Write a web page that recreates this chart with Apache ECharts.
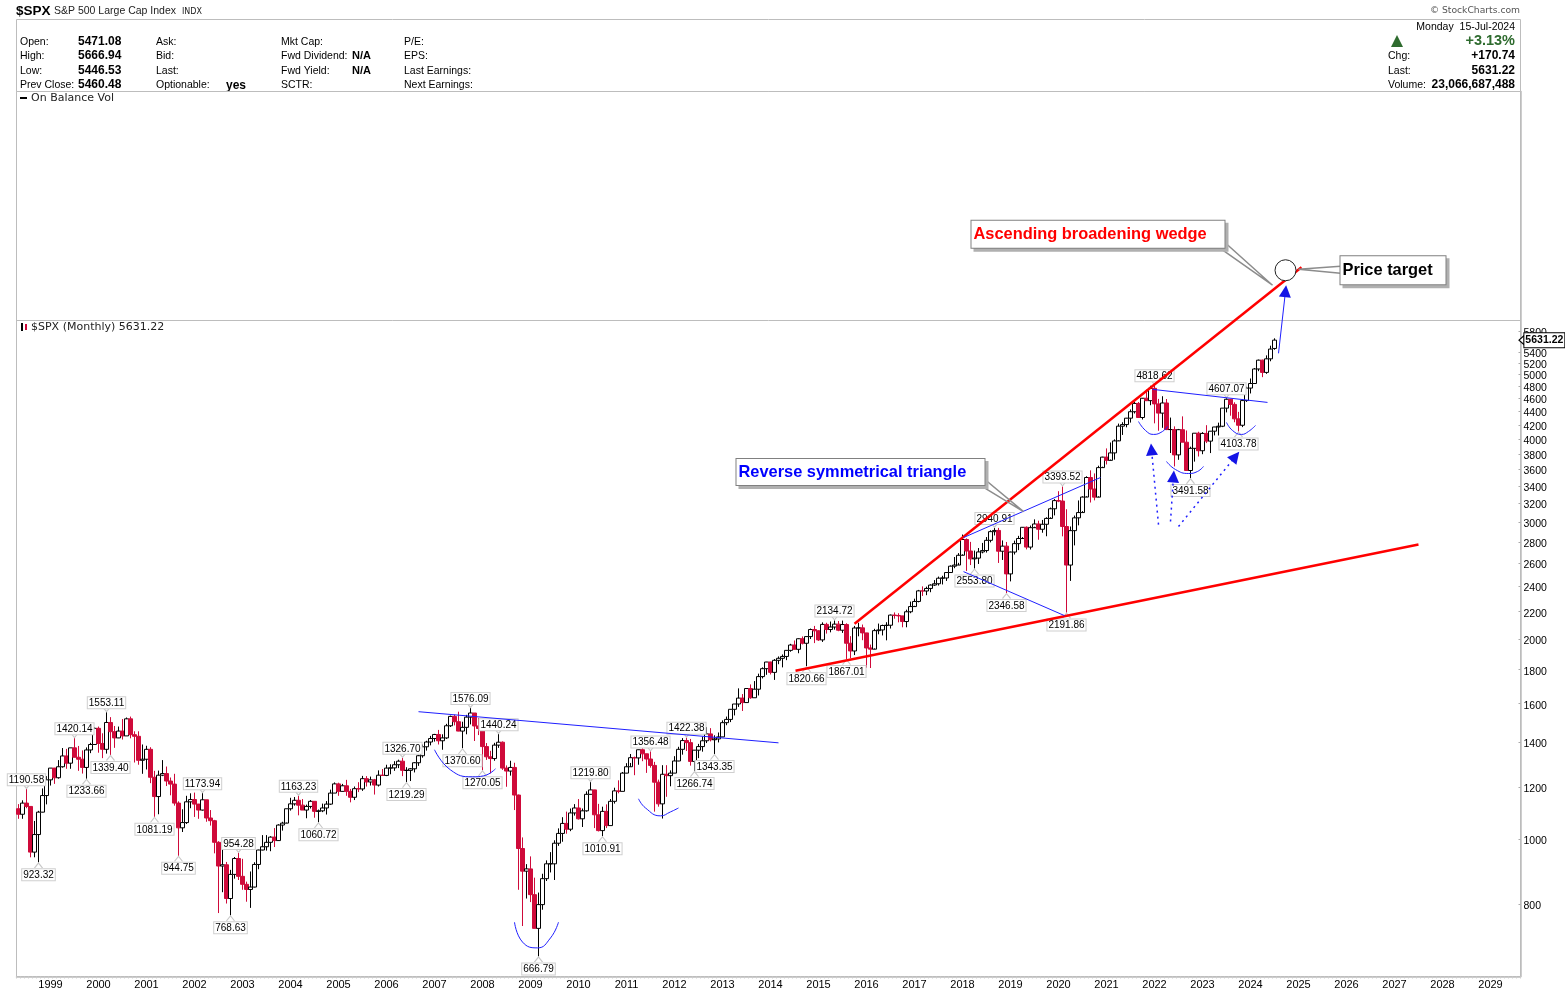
<!DOCTYPE html>
<html>
<head>
<meta charset="utf-8">
<title>$SPX</title>
<style>html,body{margin:0;padding:0;background:#fff}#chart{width:1565px;height:992px}</style>
<script src="https://cdn.jsdelivr.net/npm/echarts@6/dist/echarts.min.js"></script>
</head>
<body>
<div id="chart"></div>
<script>
// monthly candles May 1998 .. Jul 2024, one row per year
var opens = [
  1112,1091,1134,1121,957,1017,1099,1164,
  1229,1280,1238,1286,1335,1302,1373,1329,1320,1283,1363,1389,
  1469,1394,1366,1499,1452,1421,1455,1431,1518,1437,1429,1315,
  1320,1366,1240,1160,1249,1256,1224,1211,1134,1041,1060,1139,
  1148,1130,1107,1147,1077,1067,990,912,916,815,886,936,
  880,856,841,848,917,964,975,990,1008,996,1051,1058,
  1112,1131,1145,1126,1107,1121,1141,1102,1104,1115,1130,1174,
  1212,1181,1204,1181,1157,1192,1191,1234,1220,1229,1207,1249,
  1248,1280,1281,1295,1311,1270,1270,1277,1304,1336,1378,1401,
  1418,1438,1407,1421,1482,1531,1503,1455,1474,1527,1549,1481,
  1468,1379,1331,1323,1386,1400,1280,1267,1283,1166,969,896,
  903,826,735,798,873,919,919,987,1021,1057,1036,1096,
  1115,1074,1104,1169,1187,1089,1031,1102,1049,1141,1183,1181,
  1258,1286,1327,1326,1364,1345,1321,1292,1219,1131,1253,1247,
  1258,1312,1366,1408,1398,1310,1362,1379,1407,1441,1412,1416,
  1426,1498,1515,1569,1598,1631,1606,1686,1633,1682,1757,1806,
  1848,1783,1859,1872,1884,1924,1960,1931,2003,1972,2018,2068,
  2059,1995,2105,2068,2086,2107,2063,2104,1972,1920,2079,2080,
  2044,1940,1932,2060,2065,2097,2099,2174,2171,2168,2126,2199,
  2239,2279,2364,2363,2384,2412,2423,2470,2472,2519,2575,2585,
  2674,2824,2714,2641,2648,2705,2718,2816,2902,2914,2712,2760,
  2507,2704,2784,2834,2946,2751,2942,2980,2926,2977,3038,3141,
  3231,3226,2954,2585,2912,3044,3100,3271,3500,3363,3270,3622,
  3756,3714,3811,3973,4181,4204,4298,4395,4523,4308,4605,4567,
  4766,4516,4374,4530,4132,4132,3785,4130,3955,3586,3872,4080,
  3840,4077,3970,4109,4169,4180,4450,4589,4508,4288,4194,4568,
  4770,4846,5096,5254,5036,5278,5471.08
];
var closes = [
  1091,1134,1121,957,1017,1099,1164,1229,
  1280,1238,1286,1335,1302,1373,1329,1320,1283,1363,1389,1469,
  1394,1366,1499,1452,1421,1455,1431,1518,1437,1429,1315,1320,
  1366,1240,1160,1249,1256,1224,1211,1134,1041,1060,1139,1148,
  1130,1107,1147,1077,1067,990,912,916,815,886,936,880,
  856,841,848,917,964,975,990,1008,996,1051,1058,1112,
  1131,1145,1126,1107,1121,1141,1102,1104,1115,1130,1174,1212,
  1181,1204,1181,1157,1192,1191,1234,1220,1229,1207,1249,1248,
  1280,1281,1295,1311,1270,1270,1277,1304,1336,1378,1401,1418,
  1438,1407,1421,1482,1531,1503,1455,1474,1527,1549,1481,1468,
  1379,1331,1323,1386,1400,1280,1267,1283,1166,969,896,903,
  826,735,798,873,919,919,987,1021,1057,1036,1096,1115,
  1074,1104,1169,1187,1089,1031,1102,1049,1141,1183,1181,1258,
  1286,1327,1326,1364,1345,1321,1292,1219,1131,1253,1247,1258,
  1312,1366,1408,1398,1310,1362,1379,1407,1441,1412,1416,1426,
  1498,1515,1569,1598,1631,1606,1686,1633,1682,1757,1806,1848,
  1783,1859,1872,1884,1924,1960,1931,2003,1972,2018,2068,2059,
  1995,2105,2068,2086,2107,2063,2104,1972,1920,2079,2080,2044,
  1940,1932,2060,2065,2097,2099,2174,2171,2168,2126,2199,2239,
  2279,2364,2363,2384,2412,2423,2470,2472,2519,2575,2585,2674,
  2824,2714,2641,2648,2705,2718,2816,2902,2914,2712,2760,2507,
  2704,2784,2834,2946,2751,2942,2980,2926,2977,3038,3141,3231,
  3226,2954,2585,2912,3044,3100,3271,3500,3363,3270,3622,3756,
  3714,3811,3973,4181,4204,4298,4395,4523,4308,4605,4567,4766,
  4516,4374,4530,4132,4132,3785,4130,3955,3586,3872,4080,3840,
  4077,3970,4109,4169,4180,4450,4589,4508,4288,4194,4568,4770,
  4846,5096,5254,5036,5278,5460,5631.22
];
var lows = [
  1074,1074,1114,940,940,923.32,1098,1129,
  1205,1212,1234,1282,1277,1277,1328,1268,1256,1233.66,1348,1387,
  1350,1325,1346,1339.40,1373,1420,1413,1431,1419,1305,1295,1255,
  1274,1215,1081.19,1091,1245,1203,1165,1124,944.75,1026,1055,1114,
  1081,1074,1105,1063,1049,953,775,833,801,768.63,873,869,
  840,806,789,847,902,963,962,960,974,995,1031,1060,
  1105,1124,1087,1107,1076,1113,1078,1060.72,1099,1090,1127,1174,
  1163,1180,1163,1137,1146,1178,1183,1201,1205,1168,1201,1246,
  1245,1253,1268,1280,1245,1219.29,1224,1261,1290,1327,1360,1385,
  1403,1389,1364,1416,1476,1484,1454,1370.60,1439,1489,1406,1435,
  1270.05,1317,1257,1313,1373,1272,1200,1247,1107,840,741,815,
  805,735,666.79,784,866,892,869,978,992,1020,1029,1086,
  1071,1044,1101,1170,1040,1028,1010.91,1040,1049,1132,1173,1181,
  1257,1303,1249,1295,1311,1259,1282,1101,1120,1075,1159,1202,
  1258,1311,1341,1358,1291,1266.74,1325,1355,1396,1404,1343.35,1399,
  1426,1485,1501,1536,1582,1560,1605,1627,1633,1646,1746,1768,
  1770,1737,1834,1814,1860,1915,1930,1905,1964,1820.66,2001,1973,
  1988,1981,2039,2048,2067,2056,2044,1867.01,1872,1893,2020,1993,
  1812,1810,1937,2034,2026,1992,2075,2147,2120,2084,2084,2188,
  2245,2272,2323,2329,2353,2405,2408,2417,2447,2520,2557,2605,
  2683,2533,2585,2553.80,2595,2692,2699,2796,2864,2604,2631,2346.58,
  2443,2681,2722,2848,2729,2728,2952,2822,2891,2856,3050,3070,
  3214,2855,2191.86,2447,2767,2966,3116,3280,3210,3234,3280,3634,
  3662,3725,3723,3980,4056,4164,4233,4368,4306,4278,4560,4495,
  4222,4115,4157,4124,3810,3637,3721,3955,3585,3491.58,3698,3764,
  3794,3943,3809,4049,4048,4167,4385,4335,4238,4103.78,4167,4547,
  4682,4845,5057,4954,5011,5234,5446.53
];
var highs = [
  1130,1145,1190.58,1121,1066,1104,1193,1245,
  1280,1281,1316,1372,1368,1373,1420.14,1382,1361,1375,1397,1474,
  1478,1444,1553.11,1527,1481,1478,1517,1525,1530,1454,1454,1389,
  1383,1376,1268,1269,1316,1287,1239,1255,1141,1110,1163,1173,
  1176,1131,1173.94,1147,1107,1070,994,965,925,900,941,954.28,
  935,864,895,924,965,1015,1015,1011,1040,1054,1063,1112,
  1155,1158,1163.23,1150,1128,1146,1141,1109,1132,1142,1188,1218,
  1217,1212,1229,1191,1201,1219,1246,1245,1243,1233,1270,1276,
  1295,1297,1311,1318,1326.70,1284,1280,1307,1340,1389,1407,1431,
  1441,1461,1439,1492,1535,1540,1556,1503,1539,1576.09,1545,1523,
  1471,1396,1359,1397,1440.24,1404,1292,1313,1304,1168,1007,918,
  943,876,832,888,930,957,997,1039,1080,1101,1113,1130,
  1150,1113,1181,1219.80,1178,1131,1120,1129,1150,1196,1227,1263,
  1302,1344,1332,1365,1371,1346,1356.48,1308,1230,1293,1293,1270,
  1334,1378,1420,1422.38,1416,1363,1392,1427,1475,1470,1434,1448,
  1510,1530,1570,1598,1687,1654,1687,1710,1730,1775,1814,1849,
  1850,1867,1884,1897,1925,1968,1991,2006,2019,2019,2075,2094,
  2064,2120,2117,2126,2134.72,2130,2133,2113,2021,2094,2117,2104,
  2038,1963,2073,2111,2103,2121,2178,2194,2188,2169,2215,2278,
  2301,2372,2401,2399,2418,2454,2484,2491,2519,2582,2658,2694,
  2873,2835,2801,2718,2742,2791,2848,2916,2940.91,2940,2815,2800,
  2708,2813,2860,2949,2955,2964,3028,3014,3022,3050,3154,3248,
  3338,3393.52,3136,2954,3068,3233,3280,3515,3588,3550,3646,3761,
  3871,3951,3994,4218,4238,4302,4430,4546,4546,4609,4744,4808,
  4818.62,4595,4637,4593,4307,4178,4141,4325,4119,3894,4080,4101,
  4095,4195,4110,4170,4232,4450,4607.07,4531,4541,4393,4588,4793,
  4931,5112,5265,5264,5342,5524,5666.94
];

var axisYears = [1998,1999,2000,2001,2002,2003,2004,2005,2006,2007,2008,2009,2010,2011,2012,2013,
  2014,2015,2016,2017,2018,2019,2020,2021,2022,2023,2024,2025,2026,2027,2028,2029];
var priceTicks = [800,1000,1200,1400,1600,1800,2000,2200,2400,2600,2800,3000,3200,3400,3600,3800,
  4000,4200,4400,4600,4800,5000,5200,5400,5800];

// [month index, price]
var labelsAbove = [[2,1190.58],[14,1420.14],[22,1553.11],[46,1173.94],[55,954.28],[70,1163.23],[96,1326.70],
  [113,1576.09],[120,1440.24],[143,1219.80],[158,1356.48],[167,1422.38],[204,2134.72],[244,2940.91],
  [261,3393.52],[284,4818.62],[302,4607.07]];
var labelsBelow = [[5,923.32],[17,1233.66],[23,1339.40],[34,1081.19],[40,944.75],[53,768.63],[75,1060.72],
  [97,1219.29],[111,1370.60],[116,1270.05],[130,666.79],[146,1010.91],[169,1266.74],[174,1343.35],
  [197,1820.66],[207,1867.01],[239,2553.80],[247,2346.58],[262,2191.86],[293,3491.58],[305,4103.78]];

// hand drawn annotations, [month index, price]
var wedgeTop = [[209,2110],[320.75,7247]];
var wedgeBottom = [[194.25,1793],[350,2775]];
var neck2008 = [[100,1556],[190,1397]];
var triangleTop = [[236.25,2843],[270.5,3500]];
var triangleBottom = [[236.25,2527],[261.5,2170]];
var neck2022 = [[283.5,4749],[312.25,4539]];
var cupA = [[104,1364],[108,1272],[113.5,1242],[116.25,1246],[119.25,1277]];
var cupB = [[124,751],[126,701],[129.75,687],[133,711],[135,751]];
var cupC = [[155,1151],[156.75,1115],[160.5,1085],[163,1100],[165,1115]];
var cupD = [[280,4249],[281.75,4119],[283.75,4063],[286,4105],[287.25,4177]];
var cupE = [[287,3700],[289.25,3598],[292.5,3549],[294.75,3574],[296.25,3637]];
var cupF = [[302,4235],[303.5,4119],[305.75,4063],[307.5,4105],[309.25,4191]];
var targetArrow = [[315,5380],[316.75,6670]];
var dotArrowA = [[285,2974],[283.25,3858]];
var dotArrowB = [[288,3005],[288.75,3512]];
var dotArrowC = [[290,2954],[304.25,3765]];
var leaderWedge = [[301.25,7931],[313.5,6810],[300,7768]];
var leaderTriangle = [[241,3500],[251.25,3111],[239.75,3428]];
var leaderTarget = [[330.5,7272],[320,7197],[330.5,7098]];
var targetCircle = [316.75,7172];

var RED = '#cf0a3a', BLUE = '#1f1fff', GRID = '#bdbdbd';
var SANS = '"Liberation Sans", Arial, sans-serif';

var months = [];
axisYears.forEach(function (y) {
  for (var m = 1; m <= 12; m++) months.push(y + '-' + (m < 10 ? '0' : '') + m);
});
months = months.slice(4, 380); // May 1998 .. Aug 2029

var candles = opens.map(function (o, i) { return [o, closes[i], lows[i], highs[i]]; });

function line(data, color, width, extra) {
  return Object.assign({
    type: 'line', xAxisIndex: 1, yAxisIndex: 0, data: data, z: 6, clip: false, silent: true,
    symbol: 'none', animation: false, lineStyle: { color: color, width: width }
  }, extra || {});
}
// last point carries a triangle head
function arrow(pts, rotate, dotted) {
  var data = [pts[0], { value: pts[1], symbol: 'triangle', symbolSize: [12, 12], symbolRotate: rotate,
    itemStyle: { color: '#1414e6' } }];
  return line(data, BLUE, dotted ? 1.5 : 1, { lineStyle: { color: BLUE, width: dotted ? 1.5 : 1, type: dotted ? [2, 4] : 'solid' } });
}
function peakSeries(data, above) {
  return {
    type: 'scatter', xAxisIndex: 1, yAxisIndex: 0, data: data, z: 4, clip: false, silent: true, animation: false,
    symbol: 'path://M0 0L4 5L8 0', symbolSize: [8, 5], symbolRotate: above ? 0 : 180, symbolOffset: [0, above ? -3 : 3],
    itemStyle: { color: 'rgba(255,255,255,0)', borderColor: '#c8c8c8', borderWidth: 1, opacity: 1 },
    label: {
      show: true, position: above ? 'top' : 'bottom', distance: above ? -2 : 1, color: '#000', fontFamily: SANS, fontSize: 10,
      lineHeight: 10, backgroundColor: '#fff', borderColor: '#cfcfcf', borderWidth: 1, padding: [1, 1, 0, 1],
      formatter: function (p) { return p.value[1].toFixed(2); }
    }
  };
}
// grey copy of the box sits 3px down and right as the drop shadow
function calloutShadow(point, width, height) {
  return {
    type: 'scatter', xAxisIndex: 1, yAxisIndex: 0, data: [point], z: 8, clip: false, silent: true, animation: false,
    symbolSize: 0, itemStyle: { opacity: 1 },
    label: {
      show: true, position: 'right', distance: 0, offset: [3, 3], formatter: ' ', fontSize: 16.4, width: width, height: height,
      lineHeight: height, padding: [0, 0, 0, 2], backgroundColor: '#b0b0b0', borderColor: '#b0b0b0', borderWidth: 1
    }
  };
}
function calloutBox(point, text, color, width, height) {
  return {
    type: 'scatter', xAxisIndex: 1, yAxisIndex: 0, data: [point], z: 9, clip: false, silent: true, animation: false,
    symbolSize: 0, itemStyle: { opacity: 1 },
    label: {
      show: true, position: 'right', distance: 0, formatter: text, color: color, fontFamily: SANS, fontWeight: 'bold',
      fontSize: 16.4, width: width, height: height, lineHeight: height, padding: [0, 0, 0, 2], backgroundColor: '#fff',
      borderColor: '#808080', borderWidth: 1
    }
  };
}
function txt(x, y, text, font, fill, align) {
  return { type: 'text', x: x, y: y + 1, silent: true, style: { text: text, font: font, fill: fill || '#000', textAlign: align || 'left', textVerticalAlign: 'middle' } };
}
function hline(y, x1, x2) {
  return { type: 'line', silent: true, shape: { x1: x1, y1: y, x2: x2, y2: y }, style: { stroke: GRID, lineWidth: 1 } };
}
var F = '10.5px ' + SANS, B = 'bold 12px ' + SANS;

var header = [
  txt(16, 10, '$SPX', 'bold 13.5px ' + SANS),
  txt(54, 10, 'S&P 500 Large Cap Index', F, '#222'),
  txt(182, 11, 'INDX', '8px "DejaVu Sans"', '#222'),
  txt(1520, 10, '\u00a9 StockCharts.com', '9.2px "DejaVu Sans"', '#555', 'right'),
  txt(20, 41, 'Open:', F), txt(78, 41, '5471.08', B),
  txt(20, 55, 'High:', F), txt(78, 55, '5666.94', B),
  txt(20, 70, 'Low:', F), txt(78, 70, '5446.53', B),
  txt(20, 84, 'Prev Close:', F), txt(78, 84, '5460.48', B),
  txt(156, 41, 'Ask:', F), txt(156, 55, 'Bid:', F), txt(156, 70, 'Last:', F),
  txt(156, 84, 'Optionable:', F), txt(226, 85, 'yes', B),
  txt(281, 41, 'Mkt Cap:', F), txt(281, 55, 'Fwd Dividend:', F), txt(352, 55, 'N/A', 'bold 11px ' + SANS),
  txt(281, 70, 'Fwd Yield:', F), txt(352, 70, 'N/A', 'bold 11px ' + SANS), txt(281, 84, 'SCTR:', F),
  txt(404, 41, 'P/E:', F), txt(404, 55, 'EPS:', F), txt(404, 70, 'Last Earnings:', F), txt(404, 84, 'Next Earnings:', F),
  txt(1515, 26, 'Monday  15-Jul-2024', F, '#000', 'right'),
  txt(1515, 40, '+3.13%', 'bold 14.5px ' + SANS, '#2e6b2e', 'right'),
  txt(1388, 55, 'Chg:', F), txt(1515, 55, '+170.74', B, '#000', 'right'),
  txt(1388, 70, 'Last:', F), txt(1515, 70, '5631.22', B, '#000', 'right'),
  txt(1388, 84, 'Volume:', F), txt(1515, 84, '23,066,687,488', B, '#000', 'right'),
  { type: 'polygon', silent: true, shape: { points: [[1397, 35], [1391, 47], [1403, 47]] }, style: { fill: '#2e6b2e' } },
  { type: 'rect', silent: true, shape: { x: 16.5, y: 19.5, width: 1504, height: 72 }, style: { fill: 'none', stroke: GRID, lineWidth: 1 } },
  hline(320.5, 16, 1521),
  txt(31, 97, 'On Balance Vol', '11px "DejaVu Sans"', '#222'),
  { type: 'rect', silent: true, shape: { x: 20, y: 97, width: 7, height: 2 }, style: { fill: '#000' } },
  txt(31, 326, '$SPX (Monthly) 5631.22', '11px "DejaVu Sans"', '#222'),
  { type: 'rect', silent: true, shape: { x: 21, y: 323, width: 2, height: 8 }, style: { fill: '#000' } },
  { type: 'rect', silent: true, shape: { x: 25, y: 324, width: 2, height: 6 }, style: { fill: '#cf0a3a' } }
];

var chart = echarts.init(document.getElementById('chart'));
chart.setOption({
  animation: false,
  backgroundColor: '#fff',
  grid: { left: 16.5, right: 44.5, top: 91.5, bottom: 15.5, show: true, borderColor: GRID, borderWidth: 1, backgroundColor: '#fff' },
  graphic: { elements: header },
  xAxis: [{
    type: 'category', data: months, boundaryGap: true,
    axisLine: { onZero: false, lineStyle: { color: GRID, width: 1.5 } },
    axisTick: { show: true, interval: 0, length: 2, inside: false, lineStyle: { color: '#cccccc', width: 1 } },
    axisLabel: {
      interval: function (i, v) { return v.slice(5) === '01'; },
      formatter: function (v) { return v.slice(0, 4); },
      color: '#000', fontFamily: SANS, fontSize: 11, margin: 3
    },
    splitLine: { show: false }
  }, {
    type: 'value', min: -0.5, max: 375.5, show: false, splitLine: { show: false }
  }],
  yAxis: [{
    type: 'log', logBase: 10, position: 'right', min: 622.2, max: 13316, scale: true,
    axisLine: { show: true, onZero: false, lineStyle: { color: GRID, width: 1.5 } },
    axisTick: { show: true, inside: true, length: 2, customValues: priceTicks, lineStyle: { color: '#aaaaaa' } },
    axisLabel: { customValues: priceTicks, color: '#000', fontFamily: SANS, fontSize: 10.5, margin: 3, hideOverlap: false,
      formatter: function (v) { return '{t|' + v + '}'; },
      rich: { t: { color: '#000', fontFamily: SANS, fontSize: 10.5, padding: [4, 0, 0, 0] } } },
    splitLine: { show: false }, minorTick: { show: false }
  }],
  series: [
    {
      type: 'candlestick', xAxisIndex: 0, yAxisIndex: 0, data: candles, barWidth: 4, z: 2, silent: true,
      itemStyle: { color: '#fff', borderColor: '#000', color0: RED, borderColor0: RED, borderWidth: 1 }
    },
    peakSeries(labelsAbove, true),
    peakSeries(labelsBelow, false),
    line(wedgeTop, '#ff0000', 2.5), line(wedgeBottom, '#ff0000', 2.5),
    line(neck2008, BLUE, 1), line(triangleTop, BLUE, 1), line(triangleBottom, BLUE, 1), line(neck2022, BLUE, 1),
    line(cupA, BLUE, 1, { smooth: true }), line(cupB, BLUE, 1, { smooth: true }), line(cupC, BLUE, 1, { smooth: true }),
    line(cupD, BLUE, 1, { smooth: true }), line(cupE, BLUE, 1, { smooth: true }), line(cupF, BLUE, 1, { smooth: true }),
    arrow(targetArrow, -6, false),
    arrow(dotArrowA, 5, true), arrow(dotArrowB, -4, true), arrow(dotArrowC, -39, true),
    line(leaderWedge, '#8c8c8c', 1.5, { z: 7 }), line(leaderTriangle, '#8c8c8c', 1.5, { z: 7 }), line(leaderTarget, '#8c8c8c', 1.5, { z: 7 }),
    {
      type: 'scatter', xAxisIndex: 1, yAxisIndex: 0, data: [targetCircle], z: 7, clip: false, silent: true, animation: false,
      symbol: 'circle', symbolSize: 21, itemStyle: { color: '#fff', borderColor: '#222', borderWidth: 1, opacity: 1 }
    },
    calloutShadow([238.25, 8126], 251, 27),
    calloutShadow([179.5, 3567], 246, 26),
    calloutShadow([330.5, 7172], 103, 28),
    calloutBox([238.25, 8126], 'Ascending broadening wedge', '#ff0000', 251, 27),
    calloutBox([179.5, 3567], 'Reverse symmetrical triangle', '#0000ff', 246, 26),
    calloutBox([330.5, 7172], 'Price target', '#000', 103, 28),
    {
      // last price tag on the axis
      type: 'scatter', xAxisIndex: 1, yAxisIndex: 0, data: [[375.5, 5631.22]], z: 10, clip: false, silent: true, animation: false,
      symbol: 'triangle', symbolSize: [9, 5], symbolRotate: 90, symbolOffset: [1, 0],
      itemStyle: { color: '#fff', borderColor: '#000', borderWidth: 1, opacity: 1 },
      label: {
        show: true, position: 'right', distance: 0, color: '#000', fontFamily: SANS, fontWeight: 'bold', fontSize: 10.5,
        backgroundColor: '#fff', borderColor: '#000', borderWidth: 1, padding: [3, 1, 0, 1],
        formatter: function (p) { return p.value[1].toFixed(2); }
      }
    }
  ]
});
</script>
</body>
</html>
